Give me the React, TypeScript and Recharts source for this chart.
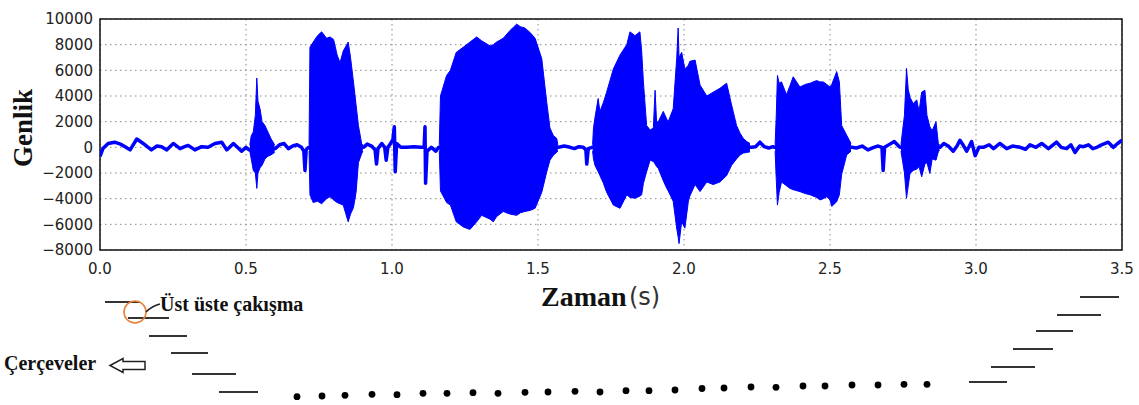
import { ComposedChart, Area, Line, XAxis, YAxis, CartesianGrid, ReferenceArea } from "recharts";

// thin trace between syllables: [time (s), amplitude]
const quietTrace: [number, number][] = [
  [0, -700], [0.01, -100], [0.028, 300], [0.05, 400], [0.07, 250], [0.086, 50], [0.103, -200],
  [0.126, 650], [0.148, 300], [0.165, 0], [0.176, -200], [0.195, 100], [0.211, 50], [0.228, -200],
  [0.251, 300], [0.274, -100], [0.29, 50], [0.302, 150], [0.325, -200], [0.348, 50], [0.37, 0],
  [0.394, 300], [0.417, 400], [0.434, -200], [0.457, 300], [0.485, -300], [0.5, 0], [0.511, -200],
  [0.6, -100], [0.615, 200], [0.63, 300], [0.645, -100], [0.66, 100], [0.675, 200], [0.69, 0],
  [0.698, -300], [0.702, -1800], [0.706, -200], [0.714, 0],
  [0.902, 0], [0.915, 250], [0.93, 100], [0.942, -200], [0.947, -1300], [0.952, -100], [0.965, 300],
  [0.975, 0], [0.98, -1000], [0.986, 0], [0.995, 300], [1.003, 600], [1.008, 1600], [1.011, -1900],
  [1.016, 300], [1.03, 0], [1.05, 0], [1.075, 50], [1.1, 0], [1.11, 0], [1.113, 1600], [1.115, -2800],
  [1.12, -300], [1.135, 0], [1.15, -300], [1.16, 0],
  [1.57, 0], [1.59, 100], [1.61, 0], [1.625, -100], [1.64, 50], [1.655, 0], [1.664, -200],
  [1.667, -1300], [1.672, -100], [1.685, 0],
  [2.23, 0], [2.245, 50], [2.26, 400], [2.275, 50], [2.29, -50], [2.305, 50], [2.31, 0],
  [2.575, 0], [2.59, -50], [2.61, 100], [2.63, -200], [2.65, 0], [2.665, 100], [2.678, 0],
  [2.682, -1800], [2.687, 0], [2.705, 250], [2.72, 450], [2.735, 100], [2.741, 0],
  [2.877, 0], [2.89, 300], [2.905, 100], [2.922, -300], [2.935, 100], [2.945, 550], [2.958, 100],
  [2.968, -300], [2.985, 450], [2.997, -650], [3.01, 0], [3.025, 0], [3.045, 200], [3.06, -100],
  [3.082, 300], [3.105, -100], [3.125, 100], [3.151, 0], [3.17, -150], [3.185, 200], [3.205, 0],
  [3.225, 300], [3.248, -100], [3.262, 150], [3.276, 400], [3.292, 0], [3.31, -100], [3.325, 200],
  [3.339, -400], [3.355, 100], [3.368, 50], [3.385, 200], [3.4, -100], [3.414, 0], [3.43, 200],
  [3.453, 400], [3.47, 0], [3.485, 300], [3.5, 550],
];

// syllable envelopes: [time (s), upper, lower]
const burst1: [number, number, number][] = [
  [0.513, 200, -300], [0.518, 900, -900], [0.525, 1200, -1800], [0.532, 2500, -2000], [0.537, 5400, -3200],
  [0.541, 3600, -2000], [0.548, 3000, -1600], [0.555, 2000, -1400], [0.565, 1700, -900], [0.575, 1200, -700],
  [0.585, 700, -600], [0.598, 200, -400],
];
const burst2: [number, number, number][] = [
  [0.716, 200, -300], [0.719, 7800, -3700], [0.73, 8200, -4300], [0.745, 8700, -4200], [0.759, 9000, -4400],
  [0.776, 8500, -4000], [0.788, 8600, -3850], [0.8, 8400, -4100], [0.812, 7200, -4300], [0.822, 6600, -4400],
  [0.833, 7500, -4500], [0.85, 8200, -5800], [0.858, 7000, -5200], [0.868, 5100, -4700], [0.877, 3300, -3500],
  [0.885, 1700, -1200], [0.896, 300, -500], [0.9, 200, -300],
];
const burst3: [number, number, number][] = [
  [1.162, 200, -300], [1.166, 4000, -3400], [1.187, 5600, -4300], [1.2, 6000, -4500], [1.22, 7400, -5800],
  [1.244, 7800, -6200], [1.267, 8200, -6400], [1.29, 8600, -5800], [1.307, 8300, -5300], [1.336, 7900, -5600],
  [1.347, 8000, -5800], [1.358, 8200, -5400], [1.381, 8500, -5000], [1.404, 9100, -5200], [1.427, 9600, -5300],
  [1.44, 9400, -5100], [1.455, 9300, -5000], [1.475, 8900, -4900], [1.49, 8500, -4750], [1.513, 6900, -3500],
  [1.53, 3500, -1900], [1.541, 1500, -1000], [1.553, 900, -600], [1.564, 700, -400], [1.568, 200, -300],
];
const burst4: [number, number, number][] = [
  [1.687, 200, -300], [1.69, 1500, -900], [1.695, 2300, -1400], [1.706, 3800, -1900], [1.712, 2800, -2200],
  [1.724, 3500, -2800], [1.735, 4300, -3500], [1.758, 6100, -4500], [1.781, 7200, -4750], [1.804, 8000, -3700],
  [1.815, 9000, -3900], [1.832, 8700, -3970], [1.849, 9000, -3800], [1.855, 7500, -3700], [1.861, 5100, -2800],
  [1.872, 1700, -1900], [1.884, 1350, -1000], [1.895, 1500, -1100], [1.901, 4450, -1300], [1.906, 2000, -1500],
  [1.912, 2000, -1640], [1.929, 2800, -2600], [1.941, 2200, -3200], [1.946, 2000, -3400], [1.963, 3000, -4200],
  [1.975, 6900, -6300], [1.98, 9300, -7000], [1.983, 7000, -7500], [1.992, 7400, -5800], [2.003, 6100, -6300],
  [2.015, 6400, -4200], [2.02, 6700, -3800], [2.038, 6800, -2900], [2.055, 4850, -3450], [2.078, 4000, -2700],
  [2.1, 4300, -2900], [2.123, 4600, -2700], [2.146, 5000, -2200], [2.163, 3300, -1400], [2.18, 1700, -900],
  [2.192, 1100, -600], [2.203, 700, -450], [2.215, 450, -400], [2.226, 300, -350],
];
const burst5: [number, number, number][] = [
  [2.312, 200, -300], [2.316, 2500, -2500], [2.32, 5600, -4500], [2.326, 5000, -3500], [2.334, 5100, -2700],
  [2.351, 4100, -3000], [2.363, 4800, -3200], [2.374, 5500, -3300], [2.397, 4700, -3450], [2.415, 4900, -3600],
  [2.432, 5000, -3700], [2.454, 5200, -3900], [2.466, 5100, -4100], [2.477, 5100, -4000], [2.489, 4900, -3850],
  [2.5, 4700, -4100], [2.506, 4900, -4600], [2.523, 5900, -4240], [2.532, 5100, -3700], [2.54, 1700, -2100],
  [2.557, 950, -600], [2.572, 300, -300],
];
const burst6: [number, number, number][] = [
  [2.743, 200, -300], [2.748, 1200, -1000], [2.755, 2500, -2000], [2.762, 6150, -3970], [2.768, 4500, -3000],
  [2.774, 3900, -2030], [2.785, 3400, -1800], [2.797, 3700, -1700], [2.805, 2800, -1500], [2.814, 4300, -2290],
  [2.825, 4450, -1300], [2.832, 2500, -1200], [2.842, 1600, -2030], [2.85, 1300, -900], [2.863, 2000, -1000],
  [2.871, 300, -350], [2.875, 200, -250],
];

const xTicks = [0, 0.5, 1, 1.5, 2, 2.5, 3, 3.5];
const yTicks = [-8000, -6000, -4000, -2000, 0, 2000, 4000, 6000, 8000, 10000];

// illustration under the plot (frames)
const leftFrames = [
  [105, 140, 302], [128, 169, 318], [149, 187, 336], [171, 208, 353], [192, 236, 374], [219, 258, 392],
];
const rightFrames = [
  [969, 1007, 382], [991, 1035, 367], [1013, 1053, 349], [1036, 1073, 331], [1057, 1101, 315], [1080, 1119, 297],
];
const frameDots = [
  [297, 396.7], [322, 396], [345, 395.3], [372, 394.3], [397, 394.7], [423, 393.3], [447, 393.3],
  [473, 392.7], [498, 393.3], [525, 392.3], [548, 392], [575, 391.3], [600, 392], [626, 390.7],
  [649, 390.7], [675, 390], [702, 388.5], [724, 388], [751, 387], [776, 387.3], [803, 386],
  [825, 386], [852, 385], [878, 385], [904, 384.3], [927, 384.3],
];

type Row = { t: number; amp?: number; band?: [number, number] };

const rows: Row[] = [
  ...quietTrace.map(([t, v]) => ({ t, amp: v })),
  ...[burst1, burst2, burst3, burst4, burst5, burst6]
    .flat()
    .map(([t, hi, lo]) => ({ t, band: [lo, hi] as [number, number] })),
].sort((a, b) => a.t - b.t);

const minus = (v: number) => String(v).replace("-", "\u2212");

const serif = "'Liberation Serif', 'Times New Roman', serif";

export default function App() {
  return (
    <div style={{ position: "absolute", left: 0, top: 0, width: 1139, height: 405, background: "#fff" }}>
      <ComposedChart
        width={1139}
        height={405}
        data={rows}
        margin={{ top: 19, right: 17, left: 40, bottom: 125 }}
      >
        <CartesianGrid stroke="#888" strokeDasharray="1.5 3.5" />
        <XAxis
          dataKey="t"
          type="number"
          domain={[0, 3.5]}
          ticks={xTicks}
          tickFormatter={(v: number) => v.toFixed(1)}
          tick={{ fill: "#222", fontSize: 15, fontFamily: "DejaVu Sans" }}
          tickLine={false}
          tickSize={6}
          tickMargin={7}
          axisLine={false}
          height={30}
          allowDataOverflow
        />
        <YAxis
          type="number"
          domain={[-8000, 10000]}
          ticks={yTicks}
          tickFormatter={minus}
          tick={{ fill: "#222", fontSize: 15, fontFamily: "DejaVu Sans" }}
          tickLine={false}
          tickSize={5}
          tickMargin={2}
          axisLine={false}
          width={60}
          allowDataOverflow
        />
        <Area
          dataKey={(d: Row) => d.band ?? null}
          type="linear"
          stroke="#0000ff"
          strokeWidth={1}
          fill="#0000ff"
          fillOpacity={1}
          isAnimationActive={false}
        />
        <Line
          dataKey="amp"
          type="linear"
          stroke="#0000ff"
          strokeWidth={3.5}
          strokeLinejoin="round"
          dot={false}
          connectNulls
          isAnimationActive={false}
        />
        <ReferenceArea
          x1={0}
          x2={3.5}
          y1={-8000}
          y2={10000}
          fill="none"
          stroke="#111"
          strokeWidth={1.5}
          ifOverflow="visible"
        />
      </ComposedChart>

      <svg
        width={1139}
        height={405}
        style={{ position: "absolute", left: 0, top: 0, pointerEvents: "none" }}
      >
        <text
          transform="translate(32,128) rotate(-90)"
          textAnchor="middle"
          fontFamily={serif}
          fontWeight="bold"
          fontSize={27}
          fill="#111"
        >
          Genlik
        </text>
        <text x={541} y={306} fontFamily={serif} fontWeight="bold" fontSize={28} fill="#111">
          Zaman
        </text>
        <text x={629} y={305} fontFamily="DejaVu Sans" fontSize={24} fill="#333">
          (s)
        </text>

        {leftFrames.concat(rightFrames).map(([x1, x2, y], i) => (
          <line key={i} x1={x1} x2={x2} y1={y} y2={y} stroke="#333" strokeWidth={2} />
        ))}
        {frameDots.map(([cx, cy], i) => (
          <circle key={i} cx={cx} cy={cy} r={3.4} fill="#000" />
        ))}

        <circle cx={135} cy={312} r={11} fill="none" stroke="#e8803a" strokeWidth={1.6} />
        <path d="M146 312 Q152 306 160 304" fill="none" stroke="#222" strokeWidth={1.5} />
        <text x={160} y={311} fontFamily={serif} fontWeight="bold" fontSize={20} fill="#111">
          Üst üste çakışma
        </text>

        <text x={4} y={370} fontFamily={serif} fontWeight="bold" fontSize={20} fill="#111">
          Çerçeveler
        </text>
        <path
          d="M110 365.5 L123 358.5 L123 361.5 L145 361.5 L145 369.5 L123 369.5 L123 372.5 Z"
          fill="#fff"
          stroke="#222"
          strokeWidth={1.5}
        />
      </svg>
    </div>
  );
}
